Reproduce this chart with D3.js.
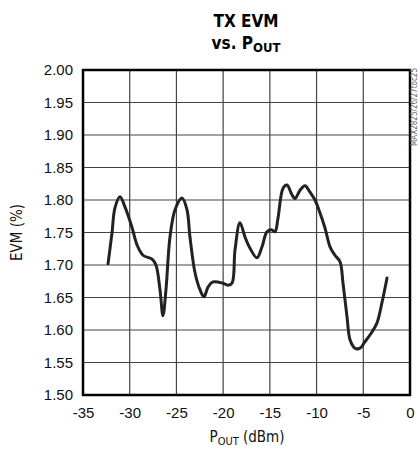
<!DOCTYPE html>
<html>
<head>
<meta charset="utf-8">
<script src="https://cdn.jsdelivr.net/npm/d3@7"></script>
<style>
  body { margin: 0; background: #fff; }
  svg { font-family: "Liberation Sans Narrow", "DejaVu Sans Condensed", "Roboto Condensed", sans-serif; }
</style>
</head>
<body>
<svg id="chart" width="420" height="451"></svg>
<script>
(function() {

  // data
  let pout = [-32.32, -31.90, -31.58, -31.04, -30.50, -29.76, -29.22, -28.58, -27.61, -27.19,
              -26.76, -26.44, -26.12, -25.69, -25.15, -24.40, -23.87, -23.55, -23.01, -22.48,
              -22.05, -21.62, -21.09, -20.02, -19.48, -19.05, -18.73, -18.20, -17.66, -17.13,
              -16.38, -15.84, -15.31, -14.77, -14.45, -14.13, -13.59, -13.17, -12.63, -12.31,
              -11.77, -11.24, -10.70, -10.17, -9.63, -9.10, -8.56, -8.03, -7.49, -7.17,
              -6.74, -6.42, -5.89, -5.35, -4.82, -4.07, -3.53, -3.00, -2.46];
  let evm = [1.702, 1.749, 1.788, 1.805, 1.789, 1.758, 1.731, 1.715, 1.709, 1.700,
             1.662, 1.622, 1.662, 1.743, 1.785, 1.803, 1.785, 1.743, 1.688, 1.662,
             1.651, 1.666, 1.674, 1.672, 1.669, 1.672, 1.723, 1.765, 1.743, 1.726,
             1.711, 1.728, 1.751, 1.754, 1.751, 1.772, 1.818, 1.823, 1.808, 1.802,
             1.815, 1.822, 1.812, 1.800, 1.780, 1.757, 1.728, 1.715, 1.705, 1.672,
             1.620, 1.585, 1.572, 1.572, 1.582, 1.597, 1.611, 1.642, 1.680];
  let xTicks = [-35, -30, -25, -20, -15, -10, -5, 0];
  let yTicks = [1.50, 1.55, 1.60, 1.65, 1.70, 1.75, 1.80, 1.85, 1.90, 1.95, 2.00];

  let left = 83, right = 410, top = 70, bottom = 395;

  let svg = d3.select("#chart");

  let xScale = d3.scaleLinear()
                 .domain([-35, 0])
                 .range([left, right]);
  let yScale = d3.scaleLinear()
                 .domain([1.5, 2.0])
                 .range([bottom, top]);

  // grid
  svg.append("g")
     .selectAll("line")
     .data(xTicks.slice(1, -1))
     .enter().append("line")
     .attr("x1", d => xScale(d)).attr("x2", d => xScale(d))
     .attr("y1", top).attr("y2", bottom)
     .attr("stroke", "#444").attr("stroke-width", 1.2);
  svg.append("g")
     .selectAll("line")
     .data(yTicks.slice(1, -1))
     .enter().append("line")
     .attr("x1", left).attr("x2", right)
     .attr("y1", d => yScale(d)).attr("y2", d => yScale(d))
     .attr("stroke", "#444").attr("stroke-width", 1.2);

  // axes (labels only, frame drawn separately)
  let xAxis = d3.axisBottom(xScale)
                .tickValues(xTicks)
                .tickSize(0)
                .tickPadding(12)
                .tickFormat(d => d < 0 ? "-" + (-d) : d);
  let yAxis = d3.axisLeft(yScale)
                .tickValues(yTicks)
                .tickSize(0)
                .tickPadding(10)
                .tickFormat(d3.format(".2f"));
  let gx = svg.append("g")
     .attr("transform", "translate(0," + bottom + ")")
     .call(xAxis);
  let gy = svg.append("g")
     .attr("transform", "translate(" + left + ",0)")
     .call(yAxis);
  [gx, gy].forEach(g => {
    g.select(".domain").remove();
    g.selectAll("text")
     .attr("font-size", "15px")
     .attr("fill", "#111")
     .style("font-family", "inherit");
  });

  // frame
  svg.append("rect")
     .attr("x", left).attr("y", top)
     .attr("width", right - left).attr("height", bottom - top)
     .attr("fill", "none")
     .attr("stroke", "#000")
     .attr("stroke-width", 2.5);

  // curve
  let line = d3.line()
               .x((d, i) => xScale(pout[i]))
               .y(d => yScale(d))
               .curve(d3.curveCatmullRom.alpha(0.5));
  svg.append("path")
     .datum(evm)
     .attr("fill", "none")
     .attr("stroke", "#222")
     .attr("stroke-width", 3)
     .attr("stroke-linejoin", "round")
     .attr("stroke-linecap", "round")
     .attr("d", line);

  // titles
  svg.append("text")
     .attr("x", 246).attr("y", 27)
     .attr("text-anchor", "middle")
     .attr("font-size", "17px")
     .attr("font-weight", "bold")
     .text("TX EVM");
  let t2 = svg.append("text")
     .attr("x", 246).attr("y", 49)
     .attr("text-anchor", "middle")
     .attr("font-size", "17px")
     .attr("font-weight", "bold");
  t2.append("tspan").text("vs. P");
  t2.append("tspan").attr("font-size", "13px").attr("dy", 3).text("OUT");

  let xl = svg.append("text")
     .attr("x", 247).attr("y", 442)
     .attr("text-anchor", "middle")
     .attr("font-size", "15px")
     .attr("fill", "#111");
  xl.append("tspan").text("P");
  xl.append("tspan").attr("font-size", "11px").attr("dy", 3).text("OUT");
  xl.append("tspan").attr("dy", -3).text(" (dBm)");

  svg.append("text")
     .attr("transform", "translate(22," + ((top + bottom) / 2) + ") rotate(-90)")
     .attr("text-anchor", "middle")
     .attr("font-size", "15px")
     .attr("fill", "#111")
     .text("EVM (%)");

  svg.append("text")
     .attr("transform", "translate(417,68) rotate(-90)")
     .attr("text-anchor", "end")
     .attr("font-size", "8px")
     .attr("fill", "#666")
     .text("MAX2825/26/27toc25");

})();
</script>
</body>
</html>
